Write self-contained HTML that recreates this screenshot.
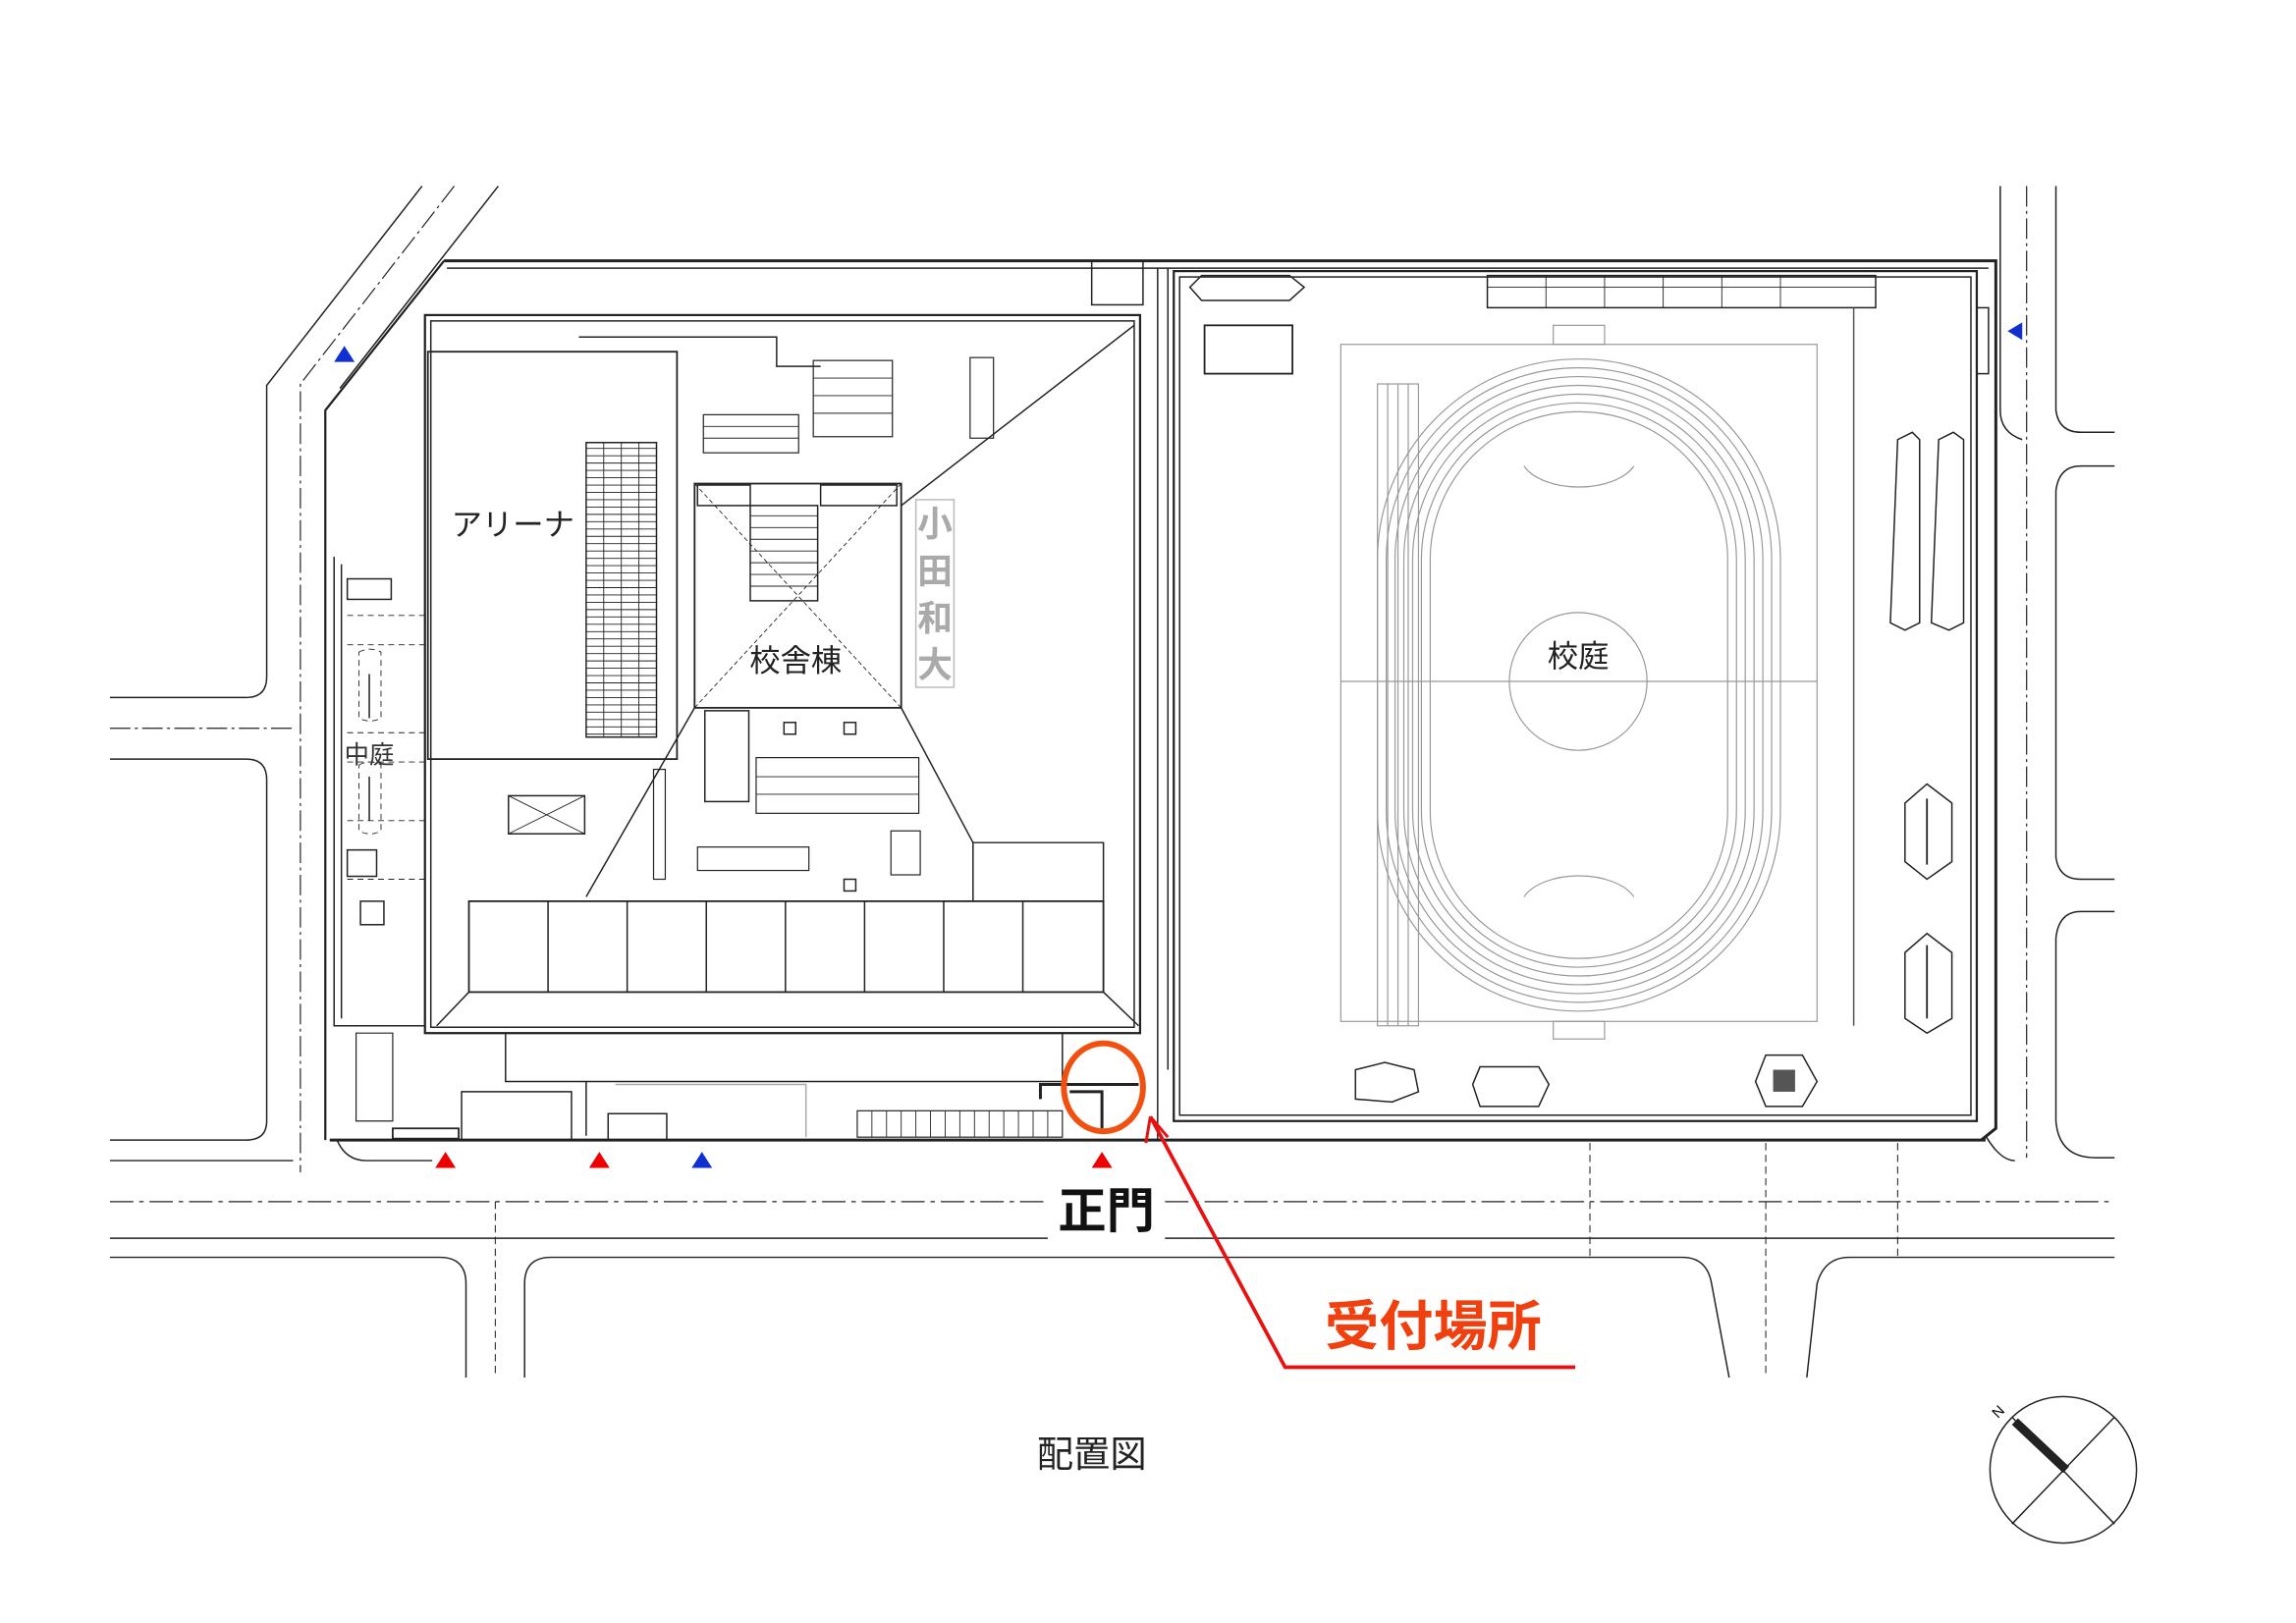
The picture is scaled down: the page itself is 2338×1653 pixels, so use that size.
<!DOCTYPE html>
<html><head><meta charset="utf-8"><style>
html,body{margin:0;padding:0;background:#fff;}
svg{display:block;}
text{font-family:"Liberation Sans","Noto Sans CJK JP",sans-serif;}
</style></head><body>
<svg width="2338" height="1653" viewBox="0 0 1559 1102" preserveAspectRatio="none" xmlns="http://www.w3.org/2000/svg">
<rect width="1559" height="1102" fill="#fff"/>
<g transform="scale(0.995)">
<g fill="none" stroke="#222" stroke-width="1">
<path d="M288 127 L182 263 L182 462 Q182 476 168 476 L75 476"/>
<path d="M75 518 L168 518 Q182 518 182 532 L182 765 Q182 778 168 778 L75 778"/>
<path d="M340 127 L232 265"/>
<path d="M310 127 L205 262 L205 800" stroke-dasharray="14 3 2 3" stroke-width="0.8"/>
<path d="M75 497 L200 497" stroke-dasharray="14 3 2 3" stroke-width="0.8"/>
<path d="M225 778 L1355 778" stroke-width="2"/>
<path d="M230 778 Q236 792 250 792 L295 792"/>
<path d="M75 792 L200 792"/>
<path d="M75 820 L715 820 M795 820 L1443 820" stroke-dasharray="16 4 3 4" stroke-width="0.8"/>
<path d="M75 845 L715 845 M795 845 L1443 845"/>
<path d="M75 858 L300 858 Q318 858 318 876 L318 940"/>
<path d="M358 940 L358 876 Q358 858 376 858 L1148 858 Q1165 858 1168 876 L1180 940"/>
<path d="M1233 940 L1240 876 Q1245 858 1262 858 L1443 858"/>
<path d="M338 820 L338 940 M1085 780 L1085 858 M1205 780 L1205 940 M1295 780 L1295 858" stroke-dasharray="5 3" stroke-width="0.7"/>
<path d="M1365 127 L1365 280 Q1365 295 1380 300"/>
<path d="M1383 127 L1383 790" stroke-dasharray="14 3 2 3" stroke-width="0.8"/>
<path d="M1403 127 L1403 280 Q1405 295 1420 295 L1443 295 M1443 318 L1420 318 Q1405 318 1403 335 L1403 585 Q1405 600 1420 600 L1443 600 M1443 622 L1420 622 Q1405 622 1403 640 L1403 765 Q1405 790 1430 790 L1443 790"/>
<path d="M1355 775 Q1365 792 1375 792"/>
<path d="M303 178 L1362 178 L1362 770 L1352 778" stroke-width="2"/>
<path d="M303 178 L222 280 L222 778" stroke-width="1.5"/>
<path d="M305 183 L1357 183"/>
<path d="M228 380 L228 700 L290 700"/>
<path d="M233 385 L233 695"/>
<path d="M790 183 L790 778 M797 183 L797 730"/>
<rect x="801" y="185" width="548" height="580" stroke-width="1.5"/>
<rect x="805" y="189" width="540" height="572"/>
<rect x="290" y="215" width="488" height="490" stroke-width="1.5"/>
<rect x="294" y="219" width="480" height="482"/>
<path d="M774 222 L615 345 M474 483 L400 612 M615 483 L664 575 M298 700 L320 677 M777 700 L753 677"/>
<rect x="292" y="240" width="170" height="278" stroke-width="1.2"/>
<rect x="400" y="302" width="48" height="201" fill="#fff"/>
<g stroke-width="0.6">
<path d="M400 306h48M400 311h48M400 316h48M400 321h48M400 326h48M400 331h48M400 336h48M400 341h48M400 346h48M400 351h48M400 356h48M400 361h48M400 366h48M400 371h48M400 376h48M400 381h48M400 386h48M400 391h48M400 396h48M400 401h48M400 406h48M400 411h48M400 416h48M400 421h48M400 426h48M400 431h48M400 436h48M400 441h48M400 446h48M400 451h48M400 456h48M400 461h48M400 466h48M400 471h48M400 476h48M400 481h48M400 486h48M400 491h48M400 496h48M400 501h48"/>
<path d="M412 302v201M424 302v201M436 302v201"/>
</g>
<rect x="474" y="330" width="141" height="153" stroke-width="1.2"/>
<path d="M474 330 L615 483 M615 330 L474 483" stroke-dasharray="3 2" stroke-width="0.6"/>
<path d="M512 345h46v65h-46z"/>
<path d="M512 352h46M512 360h46M512 368h46M512 376h46M512 384h46M512 392h46M512 400h46" stroke-width="0.6"/>
<rect x="476" y="331" width="36" height="14"/><rect x="560" y="331" width="52" height="14"/>
<rect x="320" y="615" width="433" height="62" stroke-width="1.2"/>
<path d="M374 615v62M428 615v62M482 615v62M536 615v62M590 615v62M644 615v62M698 615v62"/>
<path d="M664 615 L664 575 L753 575 L753 615"/>
<rect x="347" y="543" width="52" height="26"/><path d="M347 543 L399 569 M399 543 L347 569" stroke-width="0.6"/>
<rect x="481" y="485" width="30" height="62"/>
<rect x="516" y="517" width="111" height="38" stroke-width="0.8"/>
<path d="M516 530h111M516 542h111" stroke-width="0.6"/>
<rect x="480" y="283" width="65" height="26" stroke-width="0.8"/>
<path d="M480 291h65M480 299h65" stroke-width="0.6"/>
<rect x="555" y="246" width="54" height="52" stroke-width="0.8"/>
<path d="M555 258h54M555 270h54M555 282h54" stroke-width="0.6"/>
<rect x="476" y="578" width="76" height="16" stroke-width="0.8"/>
<rect x="446" y="525" width="8" height="75" stroke-width="0.8"/>
<rect x="662" y="244" width="16" height="55" stroke-width="0.8"/>
<rect x="608" y="567" width="20" height="30" stroke-width="0.8"/>
<rect x="535" y="493" width="8" height="8"/><rect x="576" y="493" width="8" height="8"/><rect x="576" y="600" width="8" height="8"/>
<path d="M395 230 L530 230 L530 250 L560 250"/>
<rect x="237" y="395" width="30" height="14"/>
<rect x="237" y="580" width="20" height="18"/>
<rect x="246" y="615" width="16" height="16"/>
<path d="M237 420h53M237 440h53M237 500h53M237 520h53M237 560h53M237 600h53" stroke-dasharray="4 3" stroke-width="0.6"/>
<path d="M245 445 a15 15 0 0 1 15 0 v45 a15 15 0 0 1 -15 0z M245 522 a15 15 0 0 1 15 0 v45 a15 15 0 0 1 -15 0z" stroke-dasharray="4 3" stroke-width="0.6"/>
<path d="M252 460v30M252 530v30"/>
<path d="M345 705 L345 738 L725 738 L725 705"/>
<path d="M315 778 L315 745 L390 745 L390 778 M400 738 L400 775 M415 778 L415 760 L455 760 L455 778"/>
<rect x="585" y="758" width="140" height="18" stroke-width="0.8"/>
<path d="M595 758v18M605 758v18M615 758v18M625 758v18M635 758v18M645 758v18M655 758v18M665 758v18M675 758v18M685 758v18M695 758v18M705 758v18M715 758v18" stroke-width="0.6"/>
<path d="M420 740h130v36" stroke="#aaa"/>
<path d="M710 750 V740 H777 M730 745 H752 V770" stroke-width="2"/>
<path d="M243 705h25v60h-25z" stroke-width="0.8"/>
<path d="M268 770h45v7h-45z" stroke-width="1.2"/>
<rect x="745" y="178" width="35" height="30"/>
<rect x="822" y="222" width="60" height="33" stroke-width="1.2"/>
<path d="M820 188 L880 188 L890 196 L880 205 L820 205 L812 196Z"/>
<path d="M1015 188 L1280 188 L1280 210 L1015 210Z"/>
<path d="M1015 196h265M1055 188v22M1095 188v22M1135 188v22M1175 188v22M1215 188v22" stroke-width="0.6"/>
<path d="M1295 300 L1305 295 L1310 300 L1310 425 L1300 430 L1290 425 Z M1323 300 L1333 295 L1340 300 L1340 425 L1330 430 L1318 425Z"/>
<path d="M1300 548 L1315 535 L1332 548 L1332 588 L1315 600 L1300 588Z"/>
<path d="M1300 650 L1315 637 L1332 650 L1332 695 L1315 705 L1300 695Z"/>
<path d="M1315 545 v45 M1315 645 v50" stroke-width="1.2"/>
<path d="M925 730 L945 725 L965 730 L968 745 L950 752 L925 750Z M1010 728 L1050 728 L1057 740 L1050 755 L1010 755 L1005 740Z M1205 720 L1230 720 L1240 738 L1230 755 L1205 755 L1198 738Z"/>
<rect x="1210" y="730" width="15" height="15" fill="#555" stroke="none"/>
<g stroke="#999" stroke-width="0.8">
<rect x="915" y="235" width="325" height="462"/>
<path d="M915 465 H1240"/>
<circle cx="1077" cy="465" r="47"/>
<path d="M1040 318 A40 22 0 0 0 1115 318 M1040 612 A40 22 0 0 1 1115 612"/>
<rect x="940" y="245" width="275" height="445" rx="137" ry="137"/>
<rect x="946" y="251" width="263" height="433" rx="131" ry="131"/>
<rect x="952" y="257" width="251" height="421" rx="125" ry="125"/>
<rect x="958" y="263" width="239" height="409" rx="119" ry="119"/>
<rect x="964" y="269" width="227" height="397" rx="113" ry="113"/>
<rect x="970" y="275" width="215" height="385" rx="107" ry="107"/>
<rect x="976" y="281" width="203" height="373" rx="101" ry="101"/>
<rect x="940" y="262" width="28" height="438"/>
<path d="M947 262v438M954 262v438M961 262v438"/>
<rect x="1060" y="222" width="35" height="13"/><rect x="1060" y="697" width="35" height="12"/>
</g>
<path d="M1265 210 V700" stroke="#555"/>
<rect x="1349" y="210" width="8" height="45"/>
<ellipse cx="1408" cy="1003" rx="50" ry="50"/>
<path d="M1373 967 L1443 1040 M1443 967 L1373 1040"/>
<path d="M1375 970 L1410 1003" stroke-width="6"/>
</g>
<text x="1360" y="968" font-size="10" transform="rotate(-45 1362 964)">N</text>
<g fill="#e00">
<path d="M297 797 L304 786 L311 797Z"/><path d="M402 797 L409 786 L416 797Z"/><path d="M745 797 L752 786 L759 797Z"/>
</g>
<g fill="#1030d0">
<path d="M472 797 L479 786 L486 797Z"/><path d="M228 247 L235 236 L242 247Z"/><path d="M1380 220 L1370 226 L1380 232Z"/>
</g>
<text x="350" y="365" font-size="21" text-anchor="middle" fill="#222">アリーナ</text>
<text x="543" y="458" font-size="21" text-anchor="middle" fill="#222">校舎棟</text>
<text x="1077" y="455" font-size="21" text-anchor="middle" fill="#222">校庭</text>
<text x="252" y="521" font-size="17" text-anchor="middle" fill="#333">中庭</text>
<g fill="#aaa" font-size="24" font-weight="bold" text-anchor="middle">
<rect x="625" y="341" width="26" height="128" fill="none" stroke="#bbb"/>
<text x="638" y="366">小</text><text x="638" y="398">田</text><text x="638" y="430">和</text><text x="638" y="462">大</text>
</g>
<text x="755" y="838" font-size="33" font-weight="bold" text-anchor="middle" fill="#111">正門</text>
<text x="978" y="918" font-size="37" font-weight="bold" text-anchor="middle" fill="#f04010">受付場所</text>
<text x="745" y="1001" font-size="25" text-anchor="middle" fill="#222">配置図</text>
<ellipse cx="753" cy="742" rx="27" ry="30" fill="none" stroke="#f05010" stroke-width="4"/>
<path d="M785 762 L877 933 L1075 933" fill="none" stroke="#e81010" stroke-width="2.5"/>
<path d="M785 762 L782 780 M785 762 L797 776" fill="none" stroke="#e81010" stroke-width="2"/>
</g>
</svg>
</body></html>
